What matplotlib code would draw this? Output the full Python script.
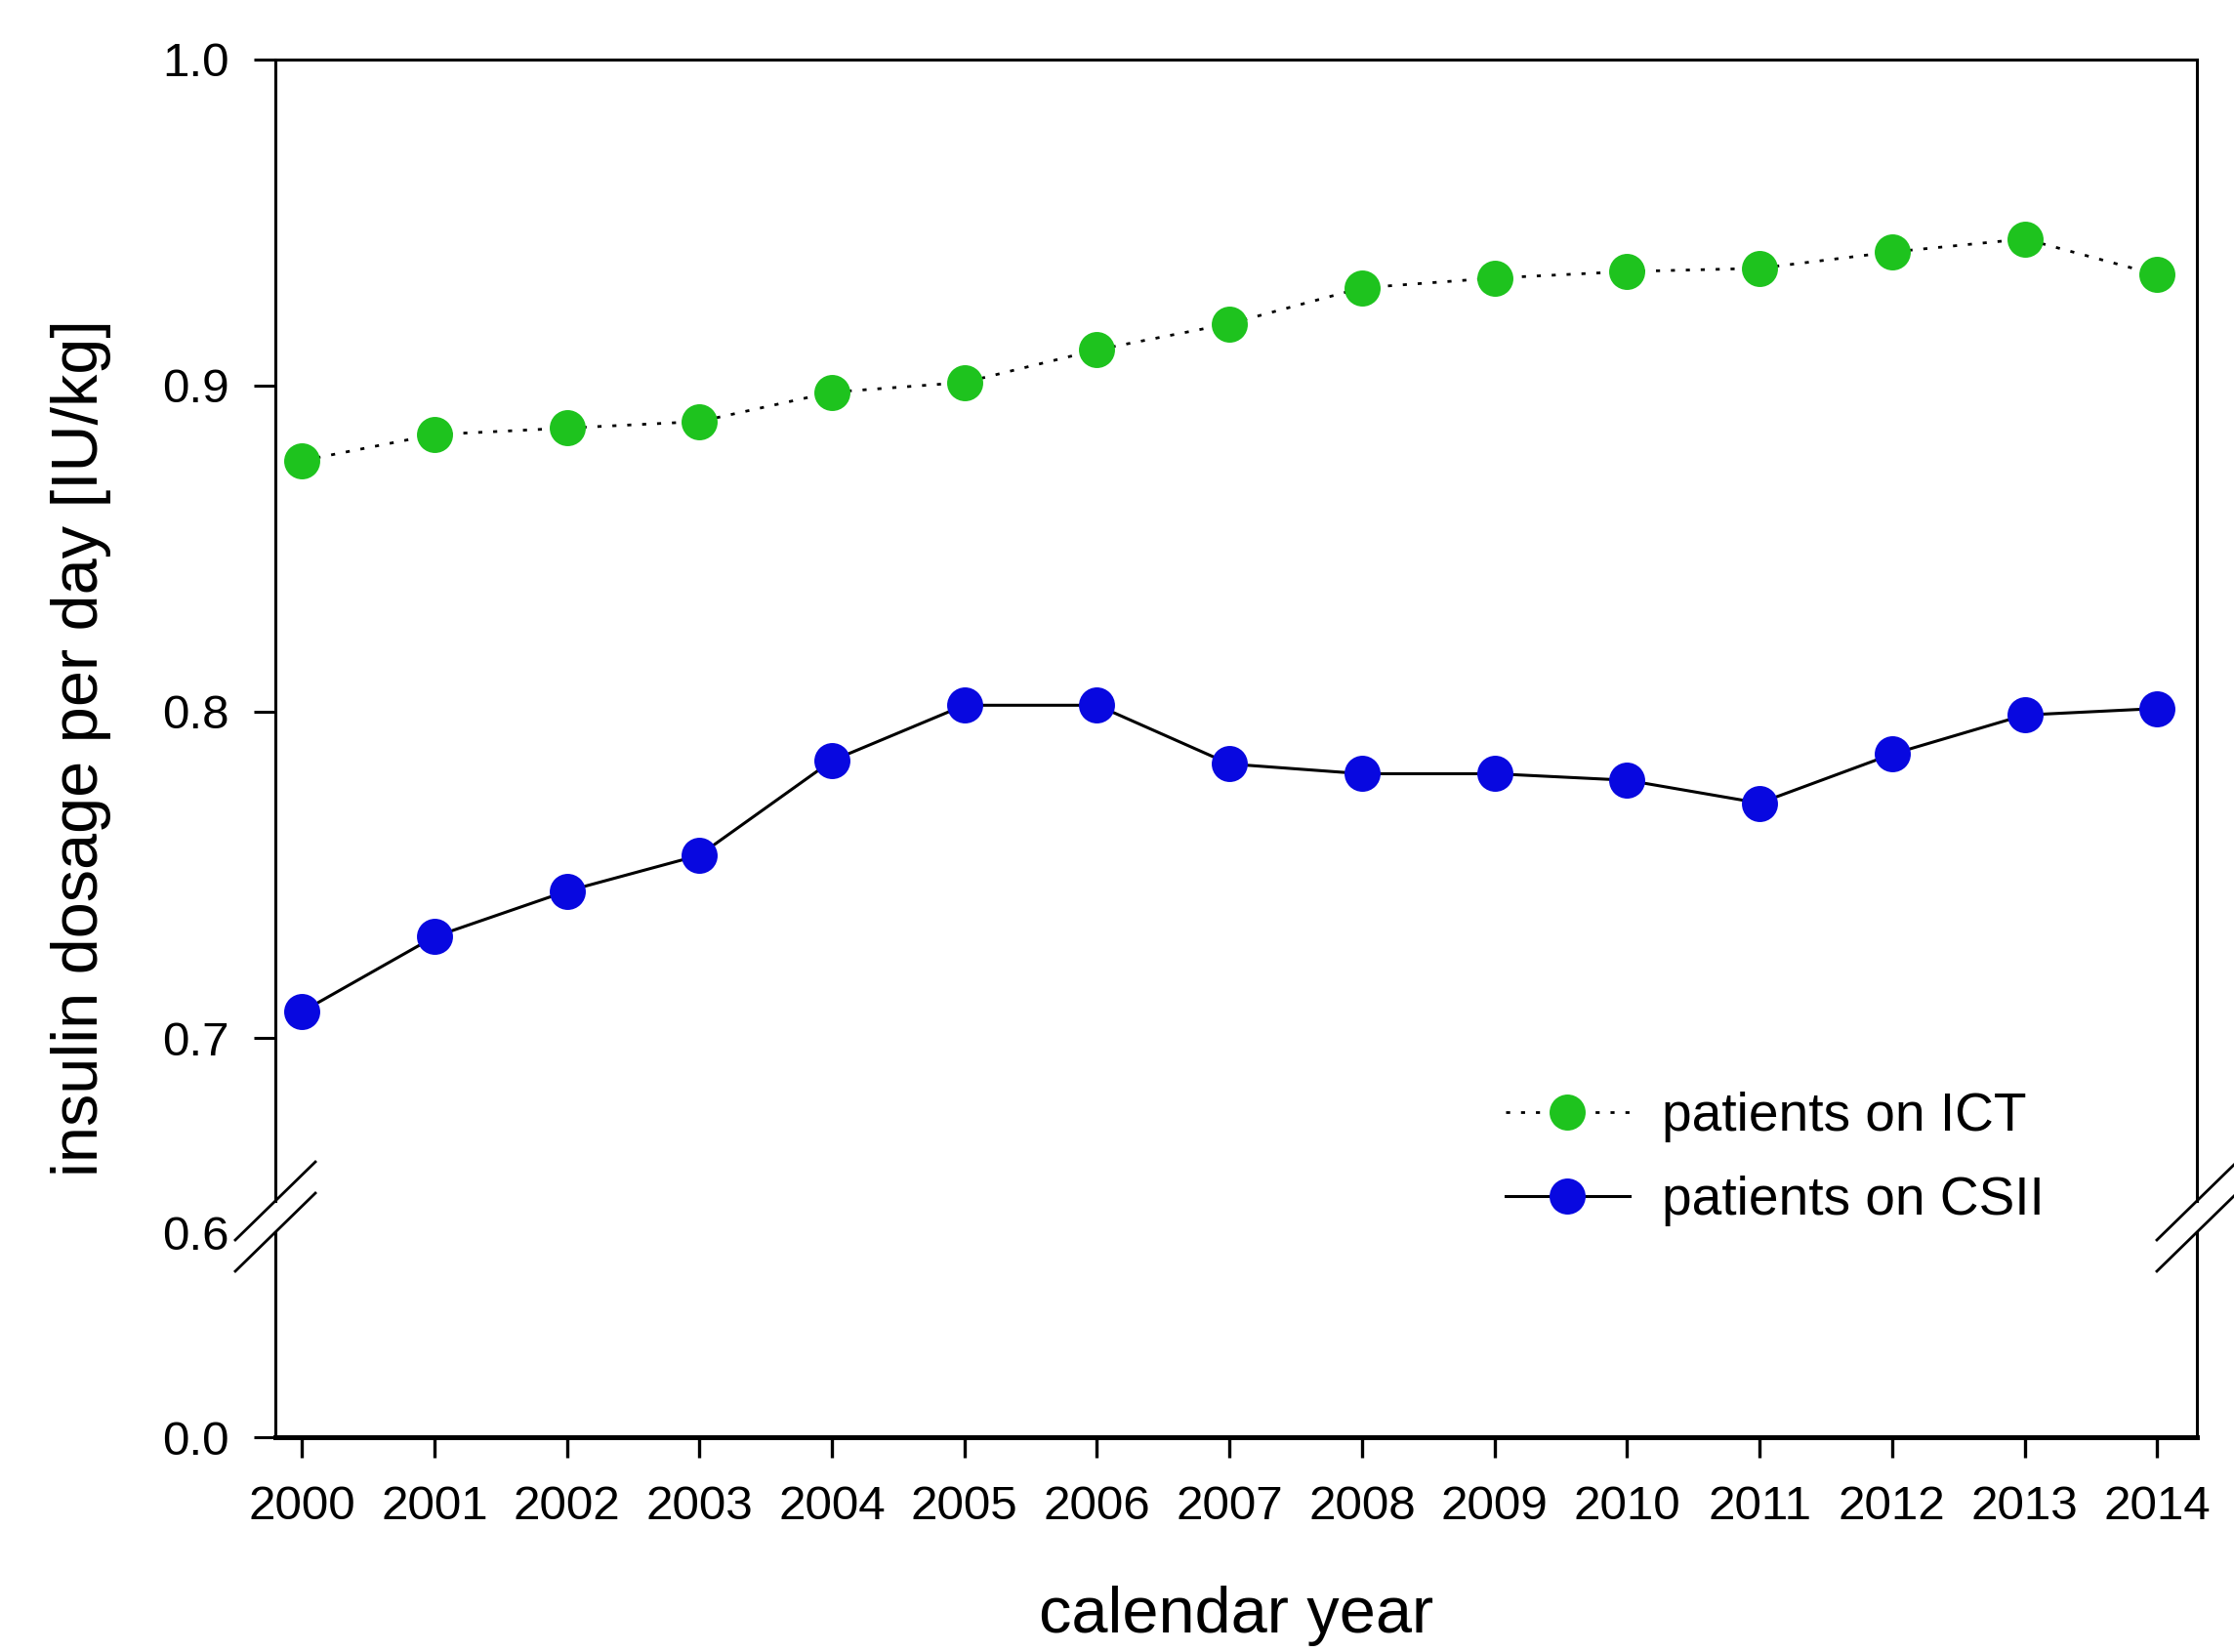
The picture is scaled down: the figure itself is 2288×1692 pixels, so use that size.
import matplotlib.pyplot as plt
from matplotlib.lines import Line2D

plt.rcParams['font.family'] = ['Liberation Sans', 'DejaVu Sans']

# data
years = [2000, 2001, 2002, 2003, 2004, 2005, 2006, 2007,
         2008, 2009, 2010, 2011, 2012, 2013, 2014]
ict = [0.877, 0.885, 0.887, 0.889, 0.898, 0.901, 0.911, 0.919,
       0.930, 0.933, 0.935, 0.936, 0.941, 0.945, 0.934]
csii = [0.708, 0.731, 0.745, 0.756, 0.785, 0.802, 0.802, 0.784,
        0.781, 0.781, 0.779, 0.772, 0.787, 0.799, 0.801]
yticks_top = [0.7, 0.8, 0.9, 1.0]
yticks_bottom = [0.0, 0.6]

W, H = 2288, 1692
fig = plt.figure(figsize=(W / 200, H / 200), dpi=200)

left, right = 282 / W, 2250 / W
ax_top = fig.add_axes([left, 1 - 1230 / H, right - left, (1230 - 61) / H])
ax_bot = fig.add_axes([left, 1 - 1472 / H, right - left, (1472 - 1262) / H])

green = '#1ec31e'
blue = '#0808e0'
msize = 13.3

ax_top.plot(years, ict, color='black', lw=1.0, ls=(0, (1.5, 4.0)),
            marker='o', ms=msize, mfc=green, mec=green, mew=0,
            label='patients on ICT')
ax_top.plot(years, csii, color='black', lw=1.1, ls='-',
            marker='o', ms=msize, mfc=blue, mec=blue, mew=0,
            label='patients on CSII')

xlim = (1999.8, 2014.3)
for ax in (ax_top, ax_bot):
    ax.set_xlim(*xlim)
    for side in ('left', 'right', 'top', 'bottom'):
        ax.spines[side].set_linewidth(1.1)
    ax.tick_params(axis='y', direction='out', length=7.9, width=1.1,
                   pad=9, labelsize=17.8)
    ax.tick_params(axis='x', direction='out', length=7.5, width=1.2,
                   pad=10, labelsize=17.8)

ax_top.set_ylim(0.65, 1.0)
ax_top.set_yticks(yticks_top)
ax_top.set_yticklabels([f'{v:.1f}' for v in yticks_top])
ax_top.spines['bottom'].set_visible(False)
ax_top.tick_params(axis='x', bottom=False, labelbottom=False)

ax_bot.set_ylim(0.0, 0.6)
ax_bot.set_yticks(yticks_bottom)
ax_bot.set_yticklabels([f'{v:.1f}' for v in yticks_bottom])
ax_bot.yaxis.get_major_ticks()[1].tick1line.set_visible(False)
ax_bot.spines['top'].set_visible(False)
ax_bot.spines['bottom'].set_linewidth(1.8)
ax_bot.set_xticks(years)
ax_bot.set_xticklabels([str(y) for y in years])
ax_bot.set_xlabel('calendar year', fontsize=24, labelpad=21)

fig.text(83 / W, 1 - 766 / H, 'insulin dosage per day [IU/kg]',
         rotation=90, ha='center', va='center', fontsize=24)

ax_top.legend(loc='upper left', bbox_to_anchor=(1542 / W, 1 - 1118 / H),
              bbox_transform=fig.transFigure, frameon=False, fontsize=19.8,
              numpoints=1, handlelength=2.3, handletextpad=0.6,
              labelspacing=0.62, borderpad=0, borderaxespad=0)

# axis break marks
dx, dy = 41 / W, 40 / H
for x in (left, right):
    for yc in (1230, 1262):
        y = 1 - yc / H
        fig.add_artist(Line2D([x - dx, x + dx], [y - dy, y + dy],
                              color='black', lw=1.0,
                              transform=fig.transFigure))

fig.savefig('out.png', dpi=200)
